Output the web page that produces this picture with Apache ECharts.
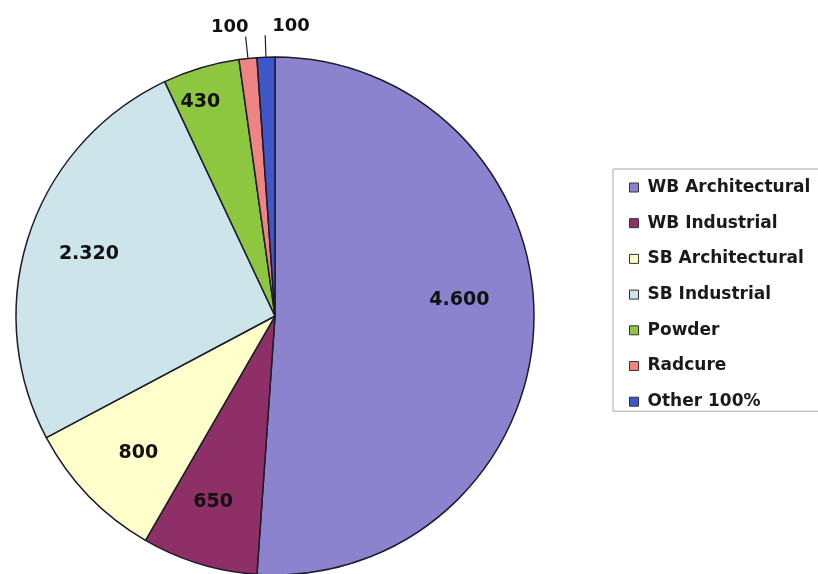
<!DOCTYPE html>
<html>
<head>
<meta charset="utf-8">
<script src="https://cdn.jsdelivr.net/npm/echarts@6/dist/echarts.min.js"></script>
<style>
html,body{margin:0;padding:0;background:#fff;}
#c{width:818px;height:574px;}
</style>
</head>
<body>
<div id="c"></div>
<script>
const categories = ['WB Architectural','WB Industrial','SB Architectural','SB Industrial','Powder','Radcure','Other 100%'];
const values = [4600, 650, 800, 2320, 430, 100, 100];
const colors = ['#8C83CE','#8F2F68','#FFFFCC','#CDE5EA','#8DC63F','#EE8484','#3F57C8'];

const FONT = 'DejaVu Sans';
const fmt = v => v.toLocaleString('de-DE');
const smallLimit = 300;
// label fine-tuning (styling only)
const insideNudge = [[0,-22],[-8,10],[-4,9],[-11,-4],[-22,-37],[0,0],[0,0]];

const mainData = categories.map((name, i) => ({
  name: name,
  value: values[i],
  itemStyle: { color: colors[i] },
  label: { show: values[i] < smallLimit, distanceToLabelLine: i === 6 ? -7 : -3 },
  labelLine: { show: values[i] < smallLimit }
}));
const overlayData = categories.map((name, i) => ({
  name: name,
  value: values[i],
  label: { show: values[i] >= smallLimit }
}));

const chart = echarts.init(document.getElementById('c'), null, {renderer: 'canvas'});
chart.setOption({
  backgroundColor: '#ffffff',
  animation: false,
  legend: {
    data: categories,
    orient: 'vertical',
    left: 613,
    top: 169,
    padding: [10, 40, 1, 16],
    itemGap: 18.7,
    itemWidth: 9,
    itemHeight: 9,
    icon: 'rect',
    borderColor: '#a8a8a8',
    borderWidth: 1,
    itemStyle: { borderColor: '#333', borderWidth: 1 },
    textStyle: { fontFamily: FONT, fontWeight: 'bold', fontSize: 17, color: '#1a1a1a', padding: [0,0,0,4] }
  },
  series: [
    {
      name: 'main',
      type: 'pie',
      center: [275, 316],
      radius: [0, 259],
      startAngle: 90,
      clockwise: true,
      avoidLabelOverlap: false,
      itemStyle: { borderColor: '#1c1c2a', borderWidth: 1.5 },
      label: {
        position: 'outside',
        formatter: p => fmt(p.value),
        fontFamily: FONT, fontWeight: 'bold', fontSize: 18, color: '#111',
        verticalAlign: 'bottom'
      },
      labelLine: { length: 22, length2: 0, lineStyle: { color: '#222', width: 1.2 } },
      labelLayout: p => (p.dataIndex === 6 ? { align: 'left', verticalAlign: 'bottom' } : { verticalAlign: 'bottom' }),
      emphasis: { disabled: true },
      data: mainData
    },
    {
      name: 'labels',
      type: 'pie',
      center: [275, 316],
      radius: [104, 259],
      startAngle: 90,
      clockwise: true,
      silent: true,
      avoidLabelOverlap: false,
      itemStyle: { color: 'rgba(0,0,0,0)', borderWidth: 0 },
      label: {
        position: 'inside',
        formatter: p => fmt(p.value),
        fontFamily: FONT, fontWeight: 'bold', fontSize: 19, color: '#111'
      },
      labelLine: { show: false },
      labelLayout: p => ({ dx: insideNudge[p.dataIndex][0], dy: insideNudge[p.dataIndex][1] }),
      emphasis: { disabled: true },
      data: overlayData
    }
  ]
});
</script>
</body>
</html>
